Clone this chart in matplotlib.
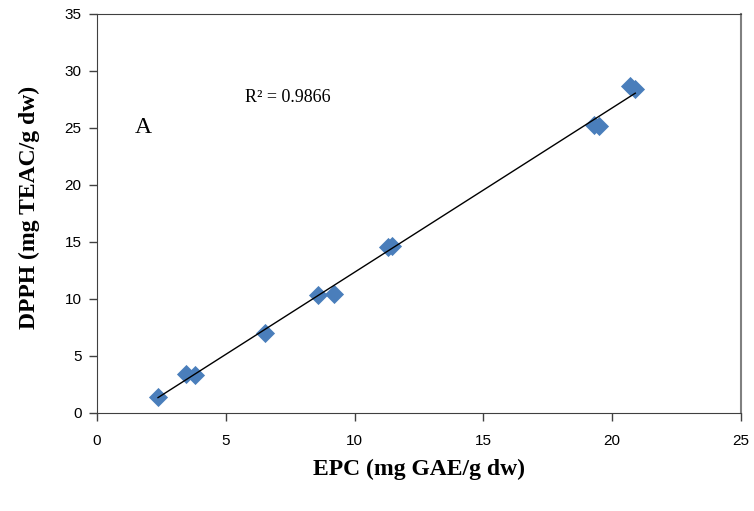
import numpy as np
import matplotlib.pyplot as plt

# EPC vs DPPH values
epc = [2.37, 3.45, 3.80, 6.52, 8.58, 9.20, 11.30, 11.45, 19.30, 19.50, 20.70, 20.90]
dpph = [1.40, 3.42, 3.33, 7.05, 10.35, 10.40, 14.60, 14.65, 25.30, 25.15, 28.65, 28.40]
r2_text = "R\u00b2 = 0.9866"

serif = ['Liberation Serif', 'DejaVu Serif']
sans = ['Liberation Sans', 'DejaVu Sans']

fig = plt.figure(figsize=(7.54, 5.11), dpi=100)
ax = fig.add_axes([0.1286, 0.1918, 0.854, 0.781])

ax.scatter(epc, dpph, marker='D', s=95, color='#4a7ebb', zorder=2, linewidths=0)

# linear trend line
k, b = np.polyfit(epc, dpph, 1)
xs = np.array([min(epc), max(epc)])
ax.plot(xs, k * xs + b, color='black', lw=1.0, zorder=3)

ax.set_xlim(0, 25)
ax.set_ylim(0, 35)
ax.set_xticks(range(0, 26, 5))
ax.set_yticks(range(0, 36, 5))
for lab in ax.get_xticklabels() + ax.get_yticklabels():
    lab.set_family(sans)
    lab.set_fontsize(11)
ax.tick_params(direction='out', length=6, width=1, color='#404040', pad=5)
ax.tick_params(axis='x', pad=9)

for side in ['left', 'bottom', 'top']:
    ax.spines[side].set_color('#404040')
ax.spines['right'].set_color('#808080')
ax.spines['right'].set_linewidth(1.5)

ax.set_xlabel('EPC (mg GAE/g dw)', family=serif, fontsize=17, fontweight='bold', labelpad=8)
ax.set_ylabel('DPPH (mg TEAC/g dw)', family=serif, fontsize=17, fontweight='bold')
ax.yaxis.set_label_coords(-0.089, 0.514)

ax.text(5.75, 27.7, r2_text, family=serif, fontsize=13, va='center', ha='left')
ax.text(1.47, 25.0, 'A', family=serif, fontsize=17, va='center', ha='left')

fig.savefig('out.png', dpi=100)
